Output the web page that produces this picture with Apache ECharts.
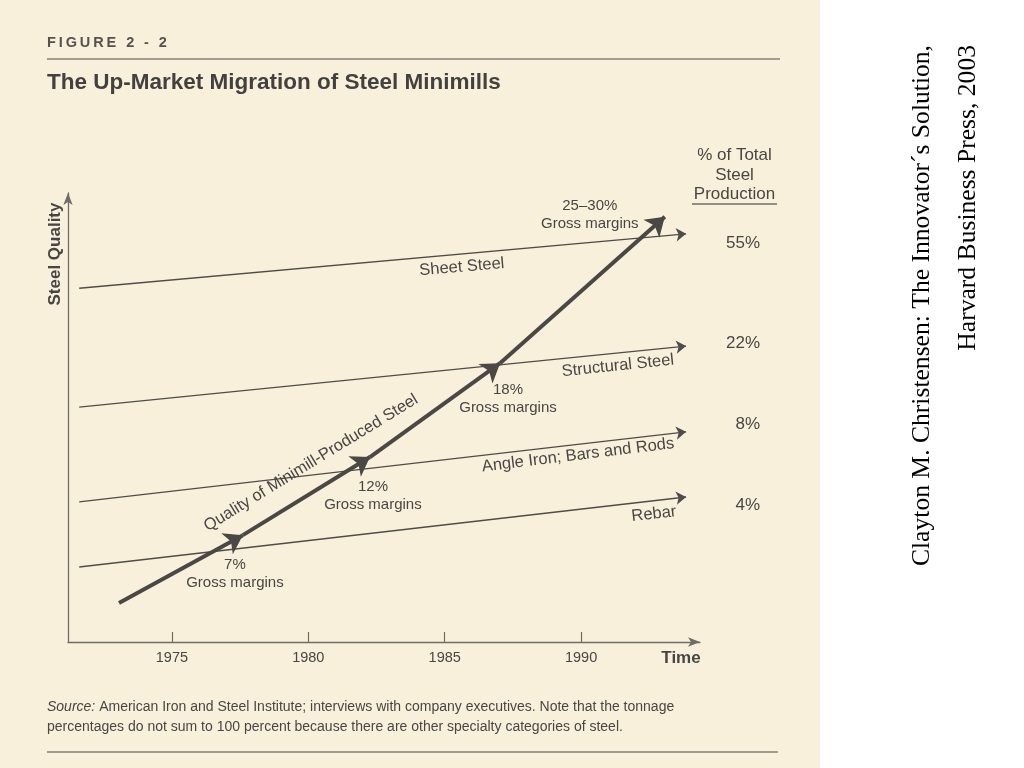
<!DOCTYPE html>
<html>
<head>
<meta charset="utf-8">
<script src="https://cdn.jsdelivr.net/npm/echarts@6/dist/echarts.min.js"></script>
<style>
  html, body { margin: 0; padding: 0; background: #ffffff; }
  #page { width: 1024px; height: 768px; background: linear-gradient(to right, #f9f0dc 0px, #f9f0dc 820px, #ffffff 820px, #ffffff 1024px); }
  #chart { width: 1024px; height: 768px; }
</style>
</head>
<body>
<div id="page"><div id="chart"></div></div>
<script>
// ---------------- DATA ----------------
const tickYears = [1975, 1980, 1985, 1990];
const segmentNames = ['Sheet Steel', 'Structural Steel', 'Angle Iron; Bars and Rods', 'Rebar'];
const segmentShares = ['55%', '22%', '8%', '4%'];
const segmentStartYear = 1971.6;
const segmentEndYear = 1993.85;
const segmentStartQuality = [78.8, 52.3, 31.2, 16.7];
const segmentEndQuality = [90.9, 65.9, 46.8, 32.3];
const minimillYears = [1973.06, 1977.6, 1982.26, 1987.03, 1993.07];
const minimillQuality = [8.7, 23.8, 41.2, 62.1, 94.7];
const grossMargins = ['7%', '12%', '18%', '25–30%'];
const minimillLabel = 'Quality of Minimill-Produced Steel';

// ---------------- LAYOUT / STYLE ----------------
const X_MIN = 1971.19, X_MAX = 1994.36, Y_MIN = 0, Y_MAX = 100;
const FONT = "'Liberation Sans', Arial, Helvetica, sans-serif";
const SERIF = "'Liberation Serif', 'Times New Roman', serif";
const TEXT = '#484644';
const AXIS = '#6f6c68';
const marginLabelAt = [[1977.31, 15.1], [1982.37, 32.5], [1987.32, 54.1], [1990.32, 95.1]];
const segmentLabelAt = [[1985.63, 83.5, 5], [1991.35, 61.5, 6], [1989.89, 41.6, 7], [1992.67, 28.5, 6.5]];
const minimillLabelAt = [1980.1, 39.9, 31.5];
const shareY = [243, 343, 424, 505];

// ---------------- BUILD ----------------
const segmentLines = segmentNames.map((n, i) => ({
  name: n,
  coords: [[segmentStartYear, segmentStartQuality[i]], [segmentEndYear, segmentEndQuality[i]]]
}));
const minimillLines = [];
for (let i = 0; i < minimillYears.length - 1; i++) {
  minimillLines.push({
    coords: [[minimillYears[i], minimillQuality[i]], [minimillYears[i + 1], minimillQuality[i + 1]]]
  });
}
const labelData = [];
grossMargins.forEach((g, i) => {
  labelData.push({
    name: g + '\nGross margins',
    value: marginLabelAt[i],
    label: { fontSize: 15, lineHeight: 18 }
  });
});
segmentNames.forEach((n, i) => {
  labelData.push({
    name: n,
    value: [segmentLabelAt[i][0], segmentLabelAt[i][1]],
    label: { fontSize: 16.5, rotate: segmentLabelAt[i][2] }
  });
});
labelData.push({
  name: minimillLabel,
  value: [minimillLabelAt[0], minimillLabelAt[1]],
  label: { fontSize: 16.5, rotate: minimillLabelAt[2] }
});

const T = (text, x, y, opts) => Object.assign({
  type: 'text', x: x, y: y, silent: true,
  style: Object.assign({
    text: text, fill: TEXT, fontFamily: FONT, fontSize: 15,
    align: 'left', verticalAlign: 'middle'
  }, (opts && opts.style) || {})
}, opts ? { rotation: opts.rotation || 0 } : {});

const graphics = [
  T('F\u2009I\u2009G\u2009U\u2009R\u2009E\u2009 \u20092\u2009 \u2009-\u2009 \u20092', 47, 43, { style: { fontSize: 14.5, fontWeight: 'bold', fill: '#55524f' } }),
  { type: 'line', silent: true, shape: { x1: 47, y1: 59, x2: 780, y2: 59 }, style: { stroke: '#85817b', lineWidth: 1.6 } },
  T('The Up-Market Migration of Steel Minimills', 47, 83, { style: { fontSize: 22.5, fontWeight: 'bold', fill: '#43413f' } }),
  T('Steel Quality', 55, 254, { rotation: Math.PI / 2, style: { fontSize: 17, fontWeight: 'bold', align: 'center' } }),
  T('Time', 681, 658, { style: { fontSize: 17, fontWeight: 'bold', align: 'center' } }),
  T('% of Total', 734.5, 155, { style: { fontSize: 17, align: 'center' } }),
  T('Steel', 734.5, 175, { style: { fontSize: 17, align: 'center' } }),
  T('Production', 734.5, 194, { style: { fontSize: 17, align: 'center' } }),
  { type: 'line', silent: true, shape: { x1: 692, y1: 204, x2: 777, y2: 204 }, style: { stroke: '#6f6c68', lineWidth: 1.5 } },
  {
    type: 'text', x: 47, y: 707, silent: true,
    style: {
      text: '{i|Source:} American Iron and Steel Institute; interviews with company executives. Note that the tonnage',
      fill: TEXT, fontFamily: FONT, fontSize: 14, verticalAlign: 'middle', align: 'left',
      rich: { i: { fontStyle: 'italic', fontFamily: FONT, fontSize: 14, fill: TEXT } }
    }
  },
  T('percentages do not sum to 100 percent because there are other specialty categories of steel.', 47, 727, { style: { fontSize: 14 } }),
  { type: 'line', silent: true, shape: { x1: 47, y1: 752, x2: 778, y2: 752 }, style: { stroke: '#85817b', lineWidth: 1.6 } },
  T('Clayton M. Christensen: The Innovator\u00b4s Solution,', 922, 45, { rotation: Math.PI / 2, style: { fontFamily: SERIF, fontSize: 25.6, fill: '#000', align: 'right' } }),
  T('Harvard Business Press, 2003', 968, 45, { rotation: Math.PI / 2, style: { fontFamily: SERIF, fontSize: 25.6, fill: '#000', align: 'right' } })
];
segmentShares.forEach((s, i) => {
  graphics.push(T(s, 760, shareY[i], { style: { fontSize: 17, align: 'right' } }));
});

const chart = echarts.init(document.getElementById('chart'), null, { renderer: 'canvas' });
chart.setOption({
  backgroundColor: 'transparent',
  animation: false,
  grid: { left: 68, top: 193, width: 632, height: 449, containLabel: false },
  xAxis: {
    type: 'value', min: X_MIN, max: X_MAX,
    axisLine: { show: true, onZero: false, symbol: ['none', 'arrow'], symbolSize: [7, 12], lineStyle: { color: AXIS, width: 1.3 } },
    axisTick: { show: true, inside: true, length: 10, customValues: tickYears, lineStyle: { color: AXIS, width: 1.2 } },
    axisLabel: { show: true, customValues: tickYears, formatter: v => String(Math.round(v)), color: TEXT, fontSize: 14.5, fontFamily: FONT, margin: 8 },
    splitLine: { show: false }
  },
  yAxis: {
    type: 'value', min: Y_MIN, max: Y_MAX,
    axisLine: { show: true, onZero: false, symbol: ['none', 'arrow'], symbolSize: [7, 12], lineStyle: { color: AXIS, width: 1.3 } },
    axisTick: { show: false }, axisLabel: { show: false }, splitLine: { show: false }
  },
  graphic: graphics,
  series: [
    {
      type: 'lines', name: 'segments', coordinateSystem: 'cartesian2d', silent: true,
      symbol: ['none', 'arrow'], symbolSize: 10,
      lineStyle: { color: '#4f4c49', width: 1.4, opacity: 1, curveness: 0 },
      data: segmentLines
    },
    {
      type: 'lines', name: 'minimill', coordinateSystem: 'cartesian2d', silent: true,
      symbol: ['none', 'arrow'], symbolSize: 18,
      lineStyle: { color: '#4a4744', width: 4, opacity: 1, curveness: 0 },
      data: minimillLines
    },
    {
      type: 'scatter', name: 'labels', silent: true, symbolSize: 1,
      itemStyle: { color: '#000', opacity: 0 },
      label: { show: true, opacity: 1, position: 'inside', formatter: '{b}', color: TEXT, fontFamily: FONT, fontSize: 15, align: 'center', verticalAlign: 'middle' },
      emphasis: { disabled: true },
      data: labelData
    }
  ]
});
</script>
</body>
</html>
